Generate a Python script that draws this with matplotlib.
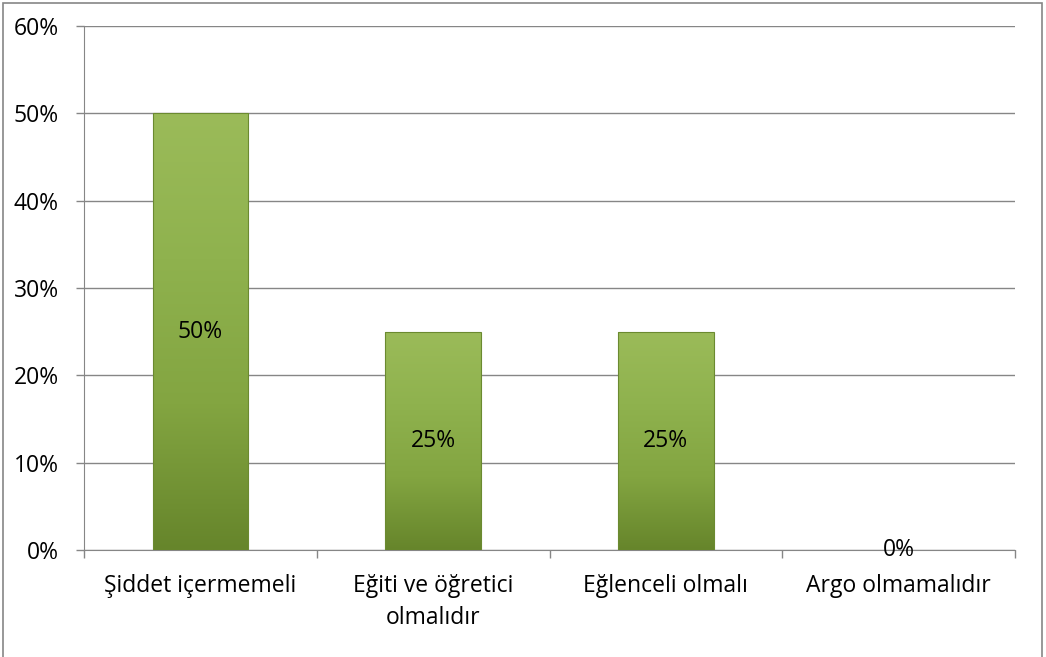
import numpy as np
import matplotlib.pyplot as plt
from matplotlib.patches import Rectangle
from matplotlib.colors import LinearSegmentedColormap

categories = ['Şiddet içermemeli', 'Eğiti ve öğretici\nolmalıdır', 'Eğlenceli olmalı', 'Argo olmamalıdır']
values = [0.50, 0.25, 0.25, 0.0]
value_labels = ['50%', '25%', '25%', '0%']
yticks = [0, 0.1, 0.2, 0.3, 0.4, 0.5, 0.6]

plt.rcParams['font.family'] = ['Open Sans', 'DejaVu Sans']
fs = 16.5

fig = plt.figure(figsize=(10.46, 6.57), dpi=100)
ax = fig.add_axes([84 / 1046, 1 - 550 / 657, (1015 - 84) / 1046, (550 - 26) / 657])

# outer chart border
fig.patches.append(Rectangle((3 / 1046, -0.05), 1039 / 1046, 1.05 - 3 / 657,
                             transform=fig.transFigure, fill=False,
                             edgecolor='#868686', linewidth=1.2))

grey = '#868686'
x = np.arange(len(categories))
width = 0.41
cmap = LinearSegmentedColormap.from_list('grn', ['#66852b', '#83a541', '#8fb24e', '#9bbb59'])
grad = np.linspace(0, 1, 256).reshape(-1, 1)

for xi, v in zip(x, values):
    if v <= 0:
        continue
    im = ax.imshow(grad, cmap=cmap, origin='lower', aspect='auto',
                   extent=(xi - width / 2, xi + width / 2, 0, v), zorder=3)
    rect = Rectangle((xi - width / 2, 0), width, v, facecolor='none',
                     edgecolor='#6b8a30', linewidth=0.8, zorder=4)
    ax.add_patch(rect)
    im.set_clip_path(rect)

for xi, v, lab in zip(x, values, value_labels):
    ax.text(xi, v / 2, lab, ha='center', va='center', fontsize=fs, color='black', zorder=5)

ax.set_xlim(-0.5, len(categories) - 0.5)
ax.set_ylim(0, 0.6)
ax.set_yticks(yticks)
ax.set_yticklabels([f'{int(round(t * 100))}%' for t in yticks], fontsize=fs)
ax.yaxis.grid(True, color=grey, linewidth=1)
ax.set_axisbelow(True)

ax.set_xticks(x)
ax.set_xticklabels(categories, fontsize=fs, linespacing=1.45)
ax.set_xticks(np.arange(-0.5, len(categories), 1), minor=True)
ax.tick_params(axis='x', which='major', length=0, pad=17)
ax.tick_params(axis='x', which='minor', length=6, color=grey, width=1)
ax.tick_params(axis='y', length=6, color=grey, width=1, pad=12)

for side in ['top', 'right']:
    ax.spines[side].set_visible(False)
ax.spines['left'].set_color(grey)
ax.spines['bottom'].set_color(grey)

fig.savefig('out.png', dpi=100)
